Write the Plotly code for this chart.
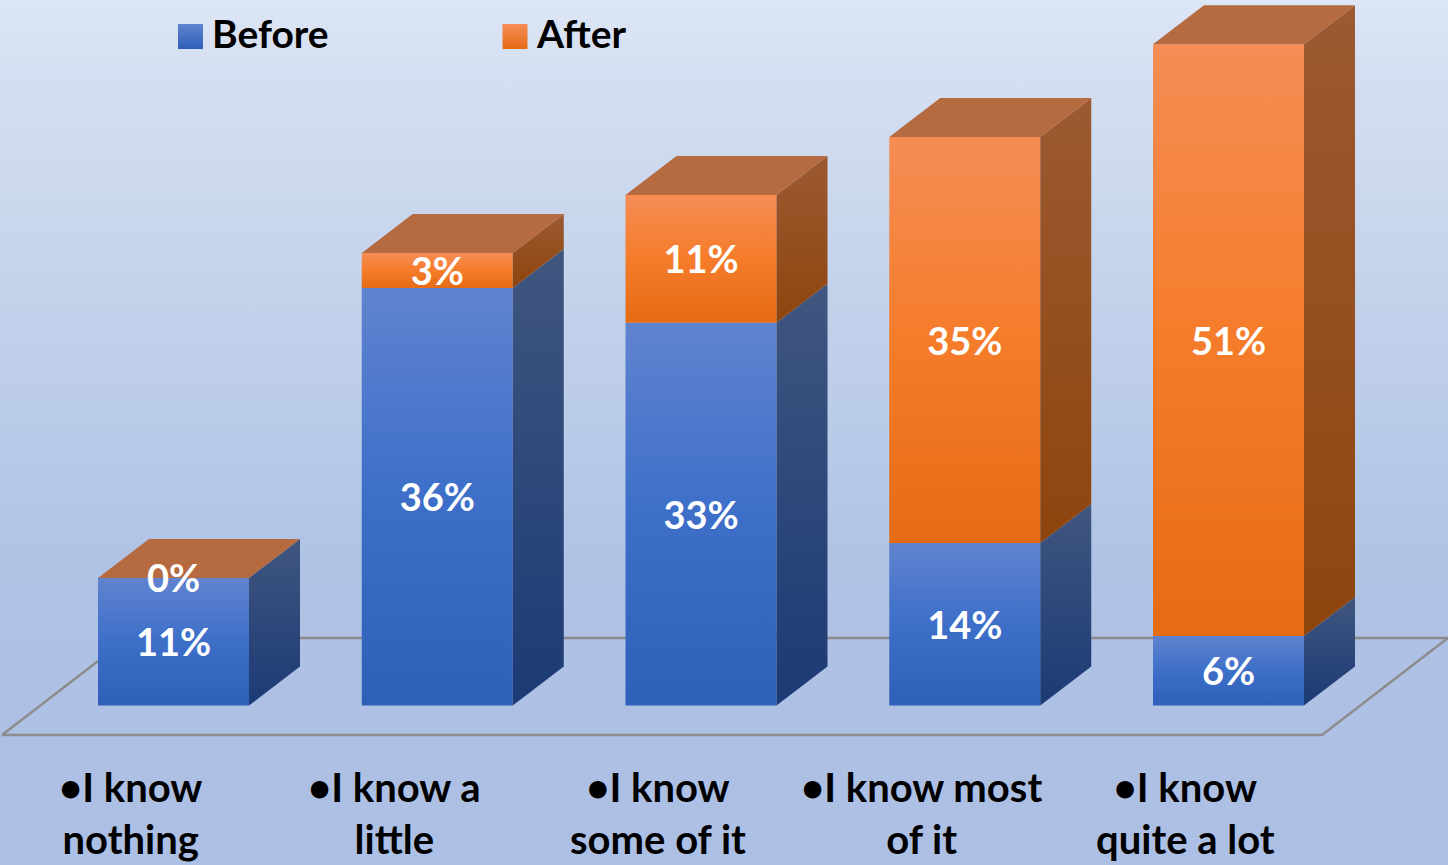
import plotly.graph_objects as go

# ---- data
categories = ["•I know<br>nothing", "•I know a<br>little", "•I know<br>some of it",
              "•I know most<br>of it", "•I know<br>quite a lot"]
before = [11, 36, 33, 14, 6]
after = [0, 3, 11, 35, 51]
series_names = ["Before", "After"]

# ---- geometry in axis units (1 category = 263.75 px, 1 % = 11.6 px)
W, H = 1448, 865
PX_X, PX_Y = 263.75, 11.6
X0_PX, Y0_PX = 173.5, 705.5
BAR_W = 151 / PX_X
DX, DY = 51 / PX_X, 39 / PX_Y
xr = [-X0_PX / PX_X, (W - X0_PX) / PX_X]
yr = [(Y0_PX - H) / PX_Y, Y0_PX / PX_Y]
def ax(px): return (px - X0_PX) / PX_X
def ay(py): return (Y0_PX - py) / PX_Y

FONT = "Lato"
BLUE_FRONT = [[0, "#2e60b9"], [0.5, "#3d6fc9"], [1, "#6083cf"]]
ORANGE_FRONT = [[0, "#e56b15"], [0.5, "#f57c2a"], [1, "#f58d55"]]
BLUE_SIDE = [[0, "#1c3a75"], [1, "#40567f"]]
ORANGE_SIDE = [[0, "#8e440d"], [1, "#9c5a32"]]
TOP = "#b66a40"

fig = go.Figure()

def poly(xs, ys, **kw):
    fig.add_trace(go.Scatter(x=xs, y=ys, mode="lines", fill="toself",
                             line=dict(width=0), hoverinfo="skip",
                             showlegend=False, **kw))

# background
poly([xr[0], xr[1], xr[1], xr[0], xr[0]], [yr[0], yr[0], yr[1], yr[1], yr[0]],
     fillgradient=dict(type="vertical",
                       colorscale=[[0, "#acbfe4"], [0.35, "#b0c3e5"], [0.75, "#c9d7ed"],
                                   [0.92, "#d5dff1"], [1, "#dde6f5"]]))

# floor
fig.add_trace(go.Scatter(
    x=[ax(1448), ax(128), ax(2), ax(1322), ax(1448)],
    y=[ay(638), ay(638), ay(735), ay(735), ay(638)],
    mode="lines", line=dict(color="#8c8c8c", width=2.5), hoverinfo="skip", showlegend=False))

# real stacked bars
fig.add_trace(go.Bar(x=list(range(5)), y=before, width=BAR_W, name=series_names[0],
                     marker=dict(color="#3d6fc9", line_width=0), showlegend=False))
fig.add_trace(go.Bar(x=list(range(5)), y=after, width=BAR_W, name=series_names[1],
                     marker=dict(color="#f57c2a", line_width=0), showlegend=False))

# gradient faces and 3-D sides derived from the same values
for i, (b, a) in enumerate(zip(before, after)):
    l, r = i - BAR_W / 2, i + BAR_W / 2
    for base, v, front, side in ((0, b, BLUE_FRONT, BLUE_SIDE), (b, a, ORANGE_FRONT, ORANGE_SIDE)):
        if v <= 0:
            continue
        t = base + v
        poly([l, r, r, l, l], [base, base, t, t, base],
             fillgradient=dict(type="vertical", colorscale=front))
        poly([r, r + DX, r + DX, r, r], [base, base + DY, t + DY, t, base],
             fillgradient=dict(type="vertical", colorscale=side))
    t = b + a
    poly([l, r, r + DX, l + DX, l], [t, t, t + DY, t + DY, t], fillcolor=TOP)

# value labels (nudged up-down to sit where the reference centres them)
LABEL_NUDGE = -5 / PX_Y
lx, ly, lt = [], [], []
for i, (b, a) in enumerate(zip(before, after)):
    lx += [i, i]
    ly += [b / 2 + LABEL_NUDGE, b + a / 2 + LABEL_NUDGE]
    lt += [f"{b}%", f"{a}%"]
fig.add_trace(go.Scatter(x=lx, y=ly, text=lt, mode="text", hoverinfo="skip", showlegend=False,
                         textfont=dict(family=FONT, size=38, color="white", weight="bold")))

# legend
for name, px, c0, c1 in ((series_names[0], 190.5, "#6083cf", "#2e60b9"),
                         (series_names[1], 515, "#f58d55", "#e56b15")):
    fig.add_trace(go.Scatter(x=[ax(px)], y=[ay(36.5)], mode="markers", hoverinfo="skip", showlegend=False,
                             marker=dict(symbol="square", size=25, color=c0, line_width=0,
                                         gradient=dict(type="vertical", color=c1))))
    fig.add_annotation(x=ax(px + 19), y=ay(33), text=name, showarrow=False, xanchor="left", yanchor="middle",
                       font=dict(family=FONT, size=39, color="black", weight="bold"))

# category labels
for i, c in enumerate(categories):
    fig.add_annotation(x=i - 43 / PX_X, y=ay(813), text=c, showarrow=False, xanchor="center", yanchor="middle",
                       align="center", font=dict(family=FONT, size=40, color="black", weight="bold"))

fig.update_layout(width=W, height=H, margin=dict(l=0, r=0, t=0, b=0), barmode="stack",
                  paper_bgcolor="#b8c9e8", plot_bgcolor="rgba(0,0,0,0)", showlegend=False,
                  xaxis=dict(range=xr, visible=False, fixedrange=True),
                  yaxis=dict(range=yr, visible=False, fixedrange=True))
fig.write_html("out.html", config=dict(displayModeBar=False),
               post_script="document.body.style.margin='0';document.body.style.overflow='hidden';")
